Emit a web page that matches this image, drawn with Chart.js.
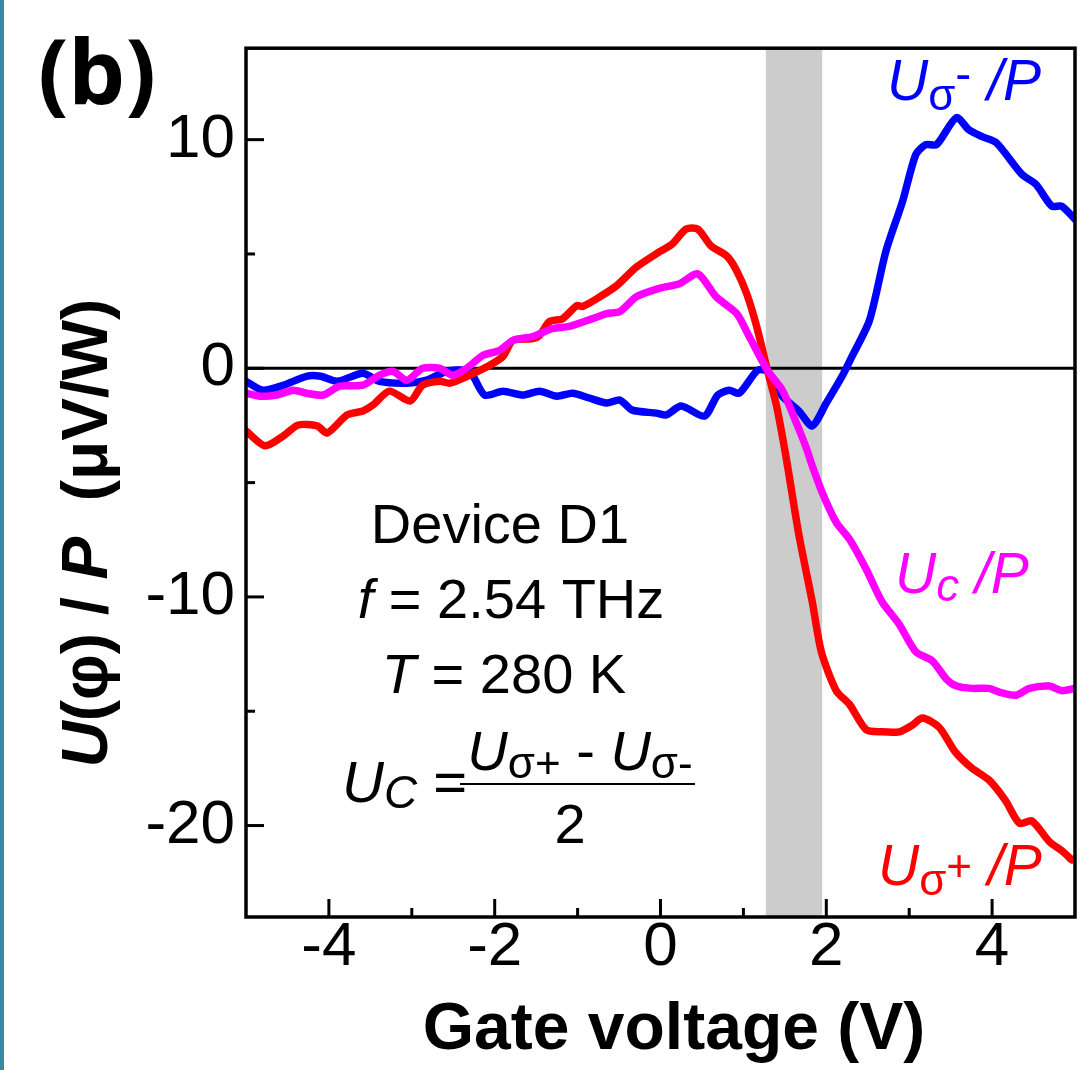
<!DOCTYPE html>
<html>
<head>
<meta charset="utf-8">
<script src="https://cdn.jsdelivr.net/npm/chart.js@4.4.1/dist/chart.umd.min.js"></script>
<style>
html, body { margin: 0; padding: 0; background: #fff; }
#wrap { position: relative; width: 1088px; height: 1070px; }
#stripe { position: absolute; left: 0; top: 0; width: 4px; height: 1070px; background: #3b88a3; }
canvas { position: absolute; left: 0; top: 0; }
</style>
</head>
<body>
<div id="wrap">
  <canvas id="myChart" width="1088" height="1070"></canvas>
  <div id="stripe"></div>
</div>
<script>
// gate voltage (V) and U/P (uV/W)
const sigmaMinusV = [-5, -4.8, -4.55, -4.27, -4.1, -3.9, -3.59, -3.39, -3.06, -2.82, -2.58, -2.34, -2.26, -2.12, -1.9, -1.66, -1.46, -1.25, -1.06, -0.86, -0.65, -0.49, -0.34, -0.05, 0.07, 0.25, 0.53, 0.69, 0.83, 0.95, 1.17, 1.29, 1.47, 1.67, 1.83, 2.0, 2.19, 2.31, 2.52, 2.72, 2.92, 3.08, 3.2, 3.33, 3.57, 3.72, 3.88, 4.05, 4.36, 4.53, 4.72, 4.84, 5.0];
const sigmaMinusU = [-0.57, -0.96, -0.74, -0.35, -0.35, -0.57, -0.22, -0.57, -0.65, -0.52, -0.13, -0.09, -0.35, -1.17, -1.0, -1.17, -1.0, -1.22, -1.09, -1.3, -1.52, -1.39, -1.83, -1.96, -2.04, -1.65, -2.09, -1.17, -0.96, -1.09, -0.09, -0.13, -1.22, -1.87, -2.52, -1.52, -0.35, 0.52, 2.09, 5.13, 7.3, 9.35, 9.78, 9.78, 10.96, 10.43, 10.13, 9.87, 8.48, 8.04, 7.09, 7.09, 6.52];

const sigmaPlusV = [-5, -4.77, -4.55, -4.37, -4.14, -4.02, -3.78, -3.59, -3.47, -3.27, -3.02, -2.87, -2.66, -2.54, -2.3, -2.06, -1.9, -1.78, -1.54, -1.46, -1.34, -1.18, -1.01, -0.94, -0.73, -0.53, -0.29, -0.01, 0.14, 0.31, 0.45, 0.61, 0.8, 0.92, 1.04, 1.16, 1.29, 1.4, 1.52, 1.67, 1.83, 1.94, 2.12, 2.28, 2.48, 2.67, 2.88, 3.04, 3.16, 3.36, 3.56, 3.76, 3.96, 4.16, 4.33, 4.48, 4.69, 4.84, 4.96];
const sigmaPlusU = [-2.74, -3.39, -2.96, -2.48, -2.52, -2.83, -2.04, -1.87, -1.61, -1.0, -1.43, -0.74, -0.57, -0.65, -0.3, 0.13, 0.52, 1.22, 1.3, 1.43, 2.04, 2.17, 2.74, 2.7, 3.13, 3.61, 4.43, 5.1, 5.43, 6.09, 6.09, 5.35, 4.91, 4.26, 3.26, 1.83, -0.09, -1.65, -4.0, -7.3, -10.2, -12.4, -14.1, -14.7, -15.8, -15.9, -15.9, -15.6, -15.3, -15.7, -16.8, -17.5, -18.0, -18.9, -19.9, -19.8, -20.7, -21.1, -21.5];

const circV = [-5, -4.83, -4.63, -4.43, -4.27, -4.07, -3.87, -3.59, -3.39, -3.23, -3.06, -2.87, -2.66, -2.51, -2.34, -2.14, -1.94, -1.78, -1.54, -1.3, -1.1, -0.82, -0.65, -0.49, -0.29, -0.01, 0.23, 0.45, 0.67, 0.92, 1.07, 1.29, 1.47, 1.64, 1.76, 1.83, 1.95, 2.12, 2.28, 2.48, 2.67, 2.88, 3.08, 3.28, 3.45, 3.57, 3.76, 3.96, 4.12, 4.29, 4.45, 4.69, 4.84, 5.0];
const circU = [-1.09, -1.22, -1.17, -0.96, -1.09, -1.17, -0.78, -0.74, -0.3, -0.13, -0.52, 0, 0, -0.3, 0, 0.57, 0.78, 1.22, 1.39, 1.74, 1.83, 2.17, 2.39, 2.48, 3.13, 3.5, 3.7, 4.13, 3.13, 2.39, 1.39, -0.09, -0.96, -2.4, -3.5, -4.26, -5.43, -6.74, -7.48, -8.78, -10.2, -11.2, -12.4, -12.8, -13.6, -13.9, -14.0, -14.0, -14.2, -14.3, -14.0, -13.9, -14.1, -14.0];

const bandV = [1.27, 1.95];
const xTickLabels = [-4, -2, 0, 2, 4];
const yTickLabels = [10, 0, -10, -20];

const SANS = '"Liberation Sans", Arial, sans-serif';

function toPoints(xs, ys) {
    return xs.map((v, i) => ({ x: v, y: ys[i] }));
}

// draws a row of text pieces with different fonts
function drawRuns(ctx, x, y, parts, align) {
    let w = 0;
    parts.forEach(p => { ctx.font = p.f; w += ctx.measureText(p.t).width; });
    let cx = align === 'center' ? x - w / 2 : x;
    parts.forEach(p => {
        ctx.font = p.f;
        ctx.fillText(p.t, cx, y + (p.dy || 0));
        cx += ctx.measureText(p.t).width;
    });
}

const decor = {
    id: 'decor',
    beforeDatasetsDraw(chart) {
        const { ctx, chartArea: a, scales: { x, y } } = chart;
        ctx.save();
        const x0 = x.getPixelForValue(bandV[0]);
        const x1 = x.getPixelForValue(bandV[1]);
        ctx.fillStyle = '#cccccc';
        ctx.fillRect(x0, a.top, x1 - x0, a.bottom - a.top);
        const y0 = y.getPixelForValue(0);
        ctx.strokeStyle = '#000';
        ctx.lineWidth = 3;
        ctx.beginPath();
        ctx.moveTo(a.left, y0);
        ctx.lineTo(a.right, y0);
        ctx.stroke();
        ctx.restore();
    },
    afterDraw(chart) {
        const { ctx, chartArea: a, scales: { x, y } } = chart;
        ctx.save();
        ctx.strokeStyle = '#000';
        ctx.lineWidth = 3;
        // inward ticks
        for (let v = -4; v <= 4; v++) {
            const px = x.getPixelForValue(v);
            const len = v % 2 === 0 ? 18 : 9;
            ctx.beginPath();
            ctx.moveTo(px, a.bottom);
            ctx.lineTo(px, a.bottom - len);
            ctx.stroke();
        }
        for (let v = -20; v <= 10; v += 5) {
            const py = y.getPixelForValue(v);
            const len = v % 10 === 0 ? 18 : 9;
            ctx.beginPath();
            ctx.moveTo(a.left, py);
            ctx.lineTo(a.left + len, py);
            ctx.stroke();
        }
        ctx.lineWidth = 3.5;
        ctx.strokeRect(a.left, a.top, a.right - a.left, a.bottom - a.top);

        ctx.textAlign = 'left';
        ctx.textBaseline = 'alphabetic';
        ctx.fillStyle = '#000';

        // panel letter
        ctx.font = 'bold 90px "Noto Sans", sans-serif';
        ctx.fillText('(b)', 38, 104);

        // axis titles
        ctx.font = 'bold 66px ' + SANS;
        ctx.textAlign = 'center';
        ctx.fillText('Gate voltage (V)', 674, 1049);
        ctx.textAlign = 'left';

        ctx.save();
        ctx.translate(107, 533);
        ctx.rotate(-Math.PI / 2);
        drawRuns(ctx, 0, 0, [
            { t: 'U', f: 'italic bold 64px ' + SANS },
            { t: '(\u03c6) / ', f: 'bold 64px ' + SANS },
            { t: 'P', f: 'italic bold 64px ' + SANS },
            { t: '  (\u03bcV/W)', f: 'bold 64px ' + SANS }
        ], 'center');
        ctx.restore();

        // device info
        const it = 'italic 56px ' + SANS, rg = '56px ' + SANS;
        drawRuns(ctx, 500, 543, [{ t: 'Device D1', f: rg }], 'center');
        drawRuns(ctx, 511, 618, [{ t: 'f', f: it }, { t: ' = 2.54 THz', f: rg }], 'center');
        drawRuns(ctx, 504, 693, [{ t: 'T', f: it }, { t: ' = 280 K', f: rg }], 'center');

        // Uc formula
        drawRuns(ctx, 342, 802, [
            { t: 'U', f: 'italic 58px ' + SANS },
            { t: 'C', f: 'italic 46px ' + SANS, dy: 6 },
            { t: ' =', f: '58px ' + SANS }
        ], 'left');
        ctx.lineWidth = 2;
        ctx.beginPath();
        ctx.moveTo(460, 784);
        ctx.lineTo(695, 784);
        ctx.stroke();
        drawRuns(ctx, 580, 770, [
            { t: 'U', f: 'italic 56px ' + SANS },
            { t: '\u03c3+', f: '44px ' + SANS, dy: 8 },
            { t: ' - ', f: '56px ' + SANS },
            { t: 'U', f: 'italic 56px ' + SANS },
            { t: '\u03c3-', f: '44px ' + SANS, dy: 8 }
        ], 'center');
        drawRuns(ctx, 570, 843, [{ t: '2', f: rg }], 'center');

        // curve labels
        const lab = 'italic 57px ' + SANS, sub = '44px ' + SANS;
        ctx.fillStyle = '#0000ff';
        drawRuns(ctx, 887, 100, [
            { t: 'U', f: lab }, { t: '\u03c3', f: sub, dy: 10 }, { t: '-', f: '48px ' + SANS, dy: -10 }, { t: ' /P', f: lab }
        ], 'left');
        ctx.fillStyle = '#ff00ff';
        drawRuns(ctx, 895, 593, [
            { t: 'U', f: lab }, { t: 'c', f: 'italic 46px ' + SANS, dy: 8 }, { t: ' /P', f: lab }
        ], 'left');
        ctx.fillStyle = '#ff0000';
        drawRuns(ctx, 878, 885, [
            { t: 'U', f: lab }, { t: '\u03c3', f: sub, dy: 10 }, { t: '+', f: sub, dy: -4 }, { t: ' /P', f: lab }
        ], 'left');
        ctx.restore();
    }
};

const data = {
    datasets: [
        { label: 'Uc/P', data: toPoints(circV, circU), borderColor: '#ff00ff', order: 1 },
        { label: 'Usigma+/P', data: toPoints(sigmaPlusV, sigmaPlusU), borderColor: '#ff0000', order: 2 },
        { label: 'Usigma-/P', data: toPoints(sigmaMinusV, sigmaMinusU), borderColor: '#0000ff', order: 3 }
    ]
};

const config = {
    type: 'line',
    data: data,
    options: {
        responsive: false,
        animation: false,
        layout: { padding: { top: 45, right: 13, left: 0, bottom: 0 } },
        plugins: { legend: { display: false }, tooltip: { enabled: false } },
        elements: {
            point: { radius: 0 },
            line: { borderWidth: 7.5, tension: 0.25, borderJoinStyle: 'round', borderCapStyle: 'round', fill: false }
        },
        scales: {
            x: {
                type: 'linear',
                min: -5,
                max: 5,
                grid: { display: false, drawTicks: false },
                border: { display: false },
                ticks: {
                    stepSize: 1,
                    autoSkip: false,
                    maxRotation: 0,
                    padding: -6,
                    color: '#000',
                    font: { family: SANS, size: 62 },
                    callback: function (value) {
                        return xTickLabels.includes(value) ? String(value) : '';
                    }
                },
                afterFit: function (scale) { scale.height = 153; }
            },
            y: {
                type: 'linear',
                min: -24,
                max: 14,
                grid: { display: false, drawTicks: false },
                border: { display: false },
                ticks: {
                    stepSize: 5,
                    autoSkip: false,
                    padding: 11,
                    color: '#000',
                    font: { family: SANS, size: 62 },
                    callback: function (value) {
                        return yTickLabels.includes(value) ? String(value) : '';
                    }
                },
                afterFit: function (scale) { scale.width = 246; }
            }
        }
    },
    plugins: [decor]
};

const ctx = document.getElementById('myChart').getContext('2d');
const myChart = new Chart(ctx, config);
</script>
</body>
</html>
